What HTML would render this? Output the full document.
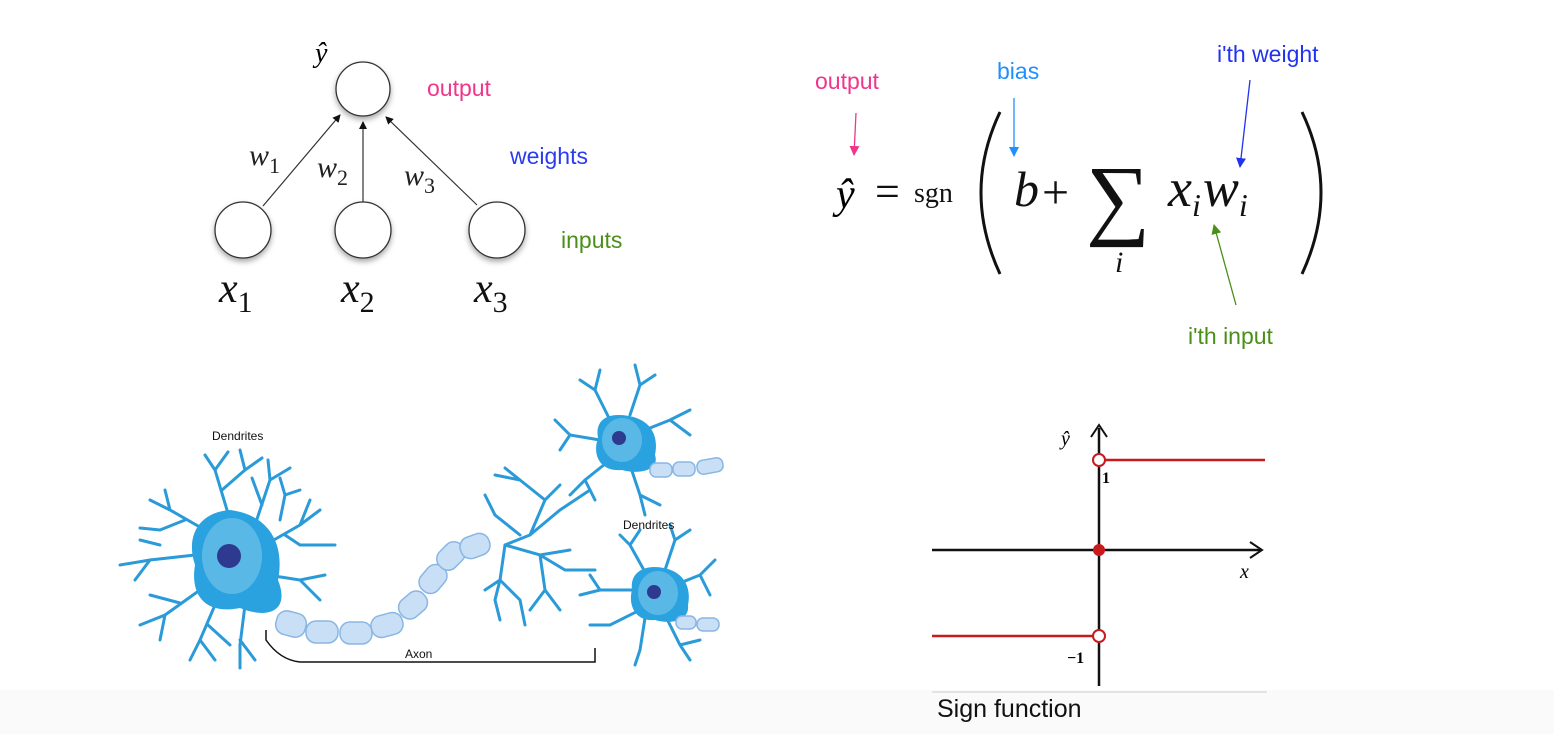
<!DOCTYPE html>
<html><head><meta charset="utf-8"><style>
html,body{margin:0;padding:0;background:#fff;}
svg{display:block;}
.m{font-family:"Liberation Serif",serif;font-style:italic;}
.s{font-family:"Liberation Sans",sans-serif;}
</style></head><body>
<svg width="1554" height="734" viewBox="0 0 1554 734" xmlns="http://www.w3.org/2000/svg">
<defs>
<marker id="ab" markerWidth="8" markerHeight="8" refX="7" refY="4" orient="auto" markerUnits="userSpaceOnUse"><path d="M0,0 L8,4 L0,8z" fill="#111"/></marker>
<marker id="ap" markerWidth="10" markerHeight="10" refX="9" refY="5" orient="auto" markerUnits="userSpaceOnUse"><path d="M0,0 L10,5 L0,10z" fill="#f0358a"/></marker>
<marker id="as" markerWidth="10" markerHeight="10" refX="9" refY="5" orient="auto" markerUnits="userSpaceOnUse"><path d="M0,0 L10,5 L0,10z" fill="#1e90ff"/></marker>
<marker id="aw" markerWidth="10" markerHeight="10" refX="9" refY="5" orient="auto" markerUnits="userSpaceOnUse"><path d="M0,0 L10,5 L0,10z" fill="#2233ee"/></marker>
<marker id="ag" markerWidth="10" markerHeight="10" refX="9" refY="5" orient="auto" markerUnits="userSpaceOnUse"><path d="M0,0 L10,5 L0,10z" fill="#4a8f1a"/></marker>
<filter id="sh"><feDropShadow dx="0" dy="3" stdDeviation="3" flood-color="#000" flood-opacity="0.35"/></filter>
</defs>
<rect x="0" y="690" width="1554" height="44" fill="#fafafa"/>

<!-- Perceptron -->
<g stroke="#333" stroke-width="1.2">
<line x1="263" y1="206" x2="340" y2="115" marker-end="url(#ab)"/>
<line x1="363" y1="203" x2="363" y2="122" marker-end="url(#ab)"/>
<line x1="477" y1="205" x2="386" y2="117" marker-end="url(#ab)"/>
</g>
<g fill="#fff" stroke="#333" stroke-width="1.3" filter="url(#sh)">
<circle cx="363" cy="89" r="27"/>
<circle cx="243" cy="230" r="28"/>
<circle cx="363" cy="230" r="28"/>
<circle cx="497" cy="230" r="28"/>
</g>
<text x="315" y="62" class="m" font-size="28">ŷ</text>
<text x="427" y="96" class="s" font-size="23" fill="#f0358a">output</text>
<text x="510" y="164" class="s" font-size="23" fill="#2b3bf0">weights</text>
<text x="561" y="248" class="s" font-size="23" fill="#4a8f1a">inputs</text>
<text x="249" y="165" class="m" font-size="30" fill="#222">w<tspan font-style="normal" font-size="22" dy="8">1</tspan></text>
<text x="317" y="177" class="m" font-size="30" fill="#222">w<tspan font-style="normal" font-size="22" dy="8">2</tspan></text>
<text x="404" y="185" class="m" font-size="30" fill="#222">w<tspan font-style="normal" font-size="22" dy="8">3</tspan></text>
<text x="219" y="302" class="m" font-size="42" fill="#111">x<tspan font-style="normal" font-size="30" dy="10">1</tspan></text>
<text x="341" y="302" class="m" font-size="42" fill="#111">x<tspan font-style="normal" font-size="30" dy="10">2</tspan></text>
<text x="474" y="302" class="m" font-size="42" fill="#111">x<tspan font-style="normal" font-size="30" dy="10">3</tspan></text>

<!-- Formula -->
<text x="815" y="89" class="s" font-size="23" fill="#f0358a">output</text>
<text x="997" y="79" class="s" font-size="23" fill="#1e90ff">bias</text>
<text x="1217" y="62" class="s" font-size="23" fill="#2233ee">i'th weight</text>
<text x="1188" y="344" class="s" font-size="23" fill="#4a8f1a">i'th input</text>
<line x1="856" y1="113" x2="854" y2="155" stroke="#f0358a" stroke-width="1.3" marker-end="url(#ap)"/>
<line x1="1014" y1="98" x2="1014" y2="156" stroke="#1e90ff" stroke-width="1.3" marker-end="url(#as)"/>
<line x1="1250" y1="80" x2="1240" y2="167" stroke="#2233ee" stroke-width="1.3" marker-end="url(#aw)"/>
<line x1="1236" y1="305" x2="1214" y2="225" stroke="#4a8f1a" stroke-width="1.3" marker-end="url(#ag)"/>
<text x="836" y="208" class="m" font-size="42" fill="#000">ŷ</text>
<text x="875" y="206" font-family="Liberation Serif,serif" font-size="44" fill="#111">=</text>
<text x="914" y="202" font-family="Liberation Serif,serif" font-size="28" fill="#111">sgn</text>
<path d="M1000,112 Q962,192 1000,274" fill="none" stroke="#111" stroke-width="3"/>
<path d="M1302,112 Q1340,192 1302,274" fill="none" stroke="#111" stroke-width="3"/>
<text x="1014" y="206" class="m" font-size="50" fill="#111">b</text>
<text x="1042" y="208" font-family="Liberation Serif,serif" font-size="48" fill="#111">+</text>
<text x="1086" y="228" font-family="Liberation Serif,serif" font-size="90" fill="#111">∑</text>
<text x="1115" y="272" class="m" font-size="30" fill="#111">i</text>
<text x="1168" y="206" class="m" font-size="54" fill="#111">x<tspan font-size="32" dy="10">i</tspan><tspan dy="-10" dx="2">w</tspan><tspan font-size="32" dy="10">i</tspan></text>

<!-- Neuron -->
<g stroke="#2a9ad8" stroke-width="3" fill="none" stroke-linecap="round">
<path d="M230,520 L215,470 L205,455 M215,470 L228,452 M222,490 L245,470 L240,450 M245,470 L262,458"/>
<path d="M255,525 L270,480 L268,460 M270,480 L290,468 M262,505 L252,478"/>
<path d="M205,530 L170,510 L150,500 M170,510 L165,490 M185,520 L160,530 L140,528"/>
<path d="M195,555 L150,560 L120,565 M150,560 L135,580 M160,545 L140,540"/>
<path d="M200,590 L165,615 L140,625 M165,615 L160,640 M180,603 L150,595"/>
<path d="M215,605 L200,640 L190,660 M200,640 L215,660 M208,625 L230,645"/>
<path d="M245,605 L240,645 L240,668 M240,640 L255,660"/>
<path d="M265,545 L300,525 L320,510 M300,525 L310,500 M285,535 L300,545 L335,545"/>
<path d="M268,575 L300,580 L320,600 M300,580 L325,575"/>
<path d="M280,520 L285,495 L300,490 M285,495 L280,478"/>
<path d="M505,545 L530,535 L560,510 L575,500 M560,510 L590,490 M530,535 L545,500 L560,485 M545,500 L520,480 L505,468 M520,480 L495,475 M520,535 L495,515 L485,495"/>
<path d="M505,545 L540,555 L570,550 M540,555 L565,570 L595,570 M540,555 L545,590 L560,610 M545,590 L530,610"/>
<path d="M505,545 L500,580 L495,600 M500,580 L520,600 L525,625 M500,580 L485,590 M495,600 L500,620"/>
<path d="M610,420 L595,390 L580,380 M595,390 L600,370 M630,415 L640,385 L655,375 M640,385 L635,365 M600,440 L570,435 L555,420 M570,435 L560,450 M610,460 L585,480 L570,495 M585,480 L595,500 M630,465 L640,495 L645,515 M640,495 L660,505 M645,430 L670,420 L690,410 M670,420 L690,435"/>
<path d="M645,572 L630,545 L620,535 M630,545 L640,530 M665,570 L675,540 L690,530 M675,540 L670,525 M635,590 L600,590 L580,595 M600,590 L590,575 M640,610 L610,625 L590,625 M645,618 L640,650 L635,665 M665,615 L680,645 L690,660 M680,645 L700,640 M675,585 L700,575 L715,560 M700,575 L710,595"/>
</g>
<path d="M230,510 C270,515 285,545 278,580 C290,610 270,620 240,608 C205,615 190,595 195,565 C185,535 200,512 230,510 Z" fill="#2aa2df"/>
<ellipse cx="232" cy="556" rx="30" ry="38" fill="#5ab8e6"/>
<circle cx="229" cy="556" r="12" fill="#2e3a8f"/>
<path d="M618,415 C645,415 660,430 655,455 C660,470 640,475 622,470 C600,472 592,455 598,438 C595,422 605,415 618,415 Z" fill="#2aa2df"/>
<ellipse cx="622" cy="440" rx="20" ry="22" fill="#5ab8e6"/>
<circle cx="619" cy="438" r="7" fill="#2e3a8f"/>
<path d="M655,567 C682,568 692,585 688,605 C690,620 672,625 655,620 C635,622 628,605 632,590 C630,575 640,567 655,567 Z" fill="#2aa2df"/>
<ellipse cx="658" cy="593" rx="20" ry="22" fill="#5ab8e6"/>
<circle cx="654" cy="592" r="7" fill="#2e3a8f"/>
<g fill="#c8dff5" stroke="#8ab6e4" stroke-width="1.5">
<rect x="276" y="612" width="30" height="24" rx="10" transform="rotate(15 291 624)"/>
<rect x="306" y="621" width="32" height="22" rx="10"/>
<rect x="340" y="622" width="32" height="22" rx="10"/>
<rect x="371" y="614" width="32" height="22" rx="10" transform="rotate(-15 387 625)"/>
<rect x="398" y="594" width="30" height="22" rx="10" transform="rotate(-40 413 605)"/>
<rect x="418" y="568" width="30" height="22" rx="10" transform="rotate(-50 433 579)"/>
<rect x="436" y="545" width="30" height="22" rx="10" transform="rotate(-45 451 556)"/>
<rect x="460" y="535" width="30" height="22" rx="10" transform="rotate(-20 475 546)"/>
<rect x="650" y="463" width="22" height="14" rx="6"/>
<rect x="673" y="462" width="22" height="14" rx="6"/>
<rect x="697" y="459" width="26" height="14" rx="6" transform="rotate(-10 710 466)"/>
<rect x="676" y="616" width="20" height="13" rx="6"/>
<rect x="697" y="618" width="22" height="13" rx="6"/>
</g>
<path d="M266,630 L266,640 Q280,660 300,662 L595,662 L595,648" fill="none" stroke="#111" stroke-width="1.5"/>
<text x="212" y="440" class="s" font-size="12" fill="#111">Dendrites</text>
<text x="623" y="529" class="s" font-size="12" fill="#111">Dendrites</text>
<text x="405" y="658" class="s" font-size="12" fill="#111">Axon</text>

<!-- Sign function -->
<line x1="932" y1="550" x2="1260" y2="550" stroke="#111" stroke-width="2.5"/>
<path d="M1250,542 L1262,550 L1250,558" fill="none" stroke="#111" stroke-width="2"/>
<line x1="1099" y1="686" x2="1099" y2="428" stroke="#111" stroke-width="2.5"/>
<path d="M1091,437 L1099,425 L1107,437" fill="none" stroke="#111" stroke-width="2"/>
<line x1="1105" y1="460" x2="1265" y2="460" stroke="#c8191d" stroke-width="2.5"/>
<line x1="932" y1="636" x2="1093" y2="636" stroke="#c8191d" stroke-width="2.5"/>
<circle cx="1099" cy="460" r="6" fill="#fff" stroke="#c8191d" stroke-width="2"/>
<circle cx="1099" cy="636" r="6" fill="#fff" stroke="#c8191d" stroke-width="2"/>
<circle cx="1099" cy="550" r="6" fill="#c8191d"/>
<text x="1061" y="445" class="m" font-size="20">ŷ</text>
<text x="1102" y="483" font-family="Liberation Serif,serif" font-weight="bold" font-size="16">1</text>
<text x="1067" y="663" font-family="Liberation Serif,serif" font-weight="bold" font-size="16">−1</text>
<text x="1240" y="578" class="m" font-size="20">x</text>
<line x1="932" y1="692" x2="1267" y2="692" stroke="#ccc" stroke-width="1"/>
<text x="937" y="717" class="s" font-size="25" fill="#111">Sign function</text>
</svg>
</body></html>
